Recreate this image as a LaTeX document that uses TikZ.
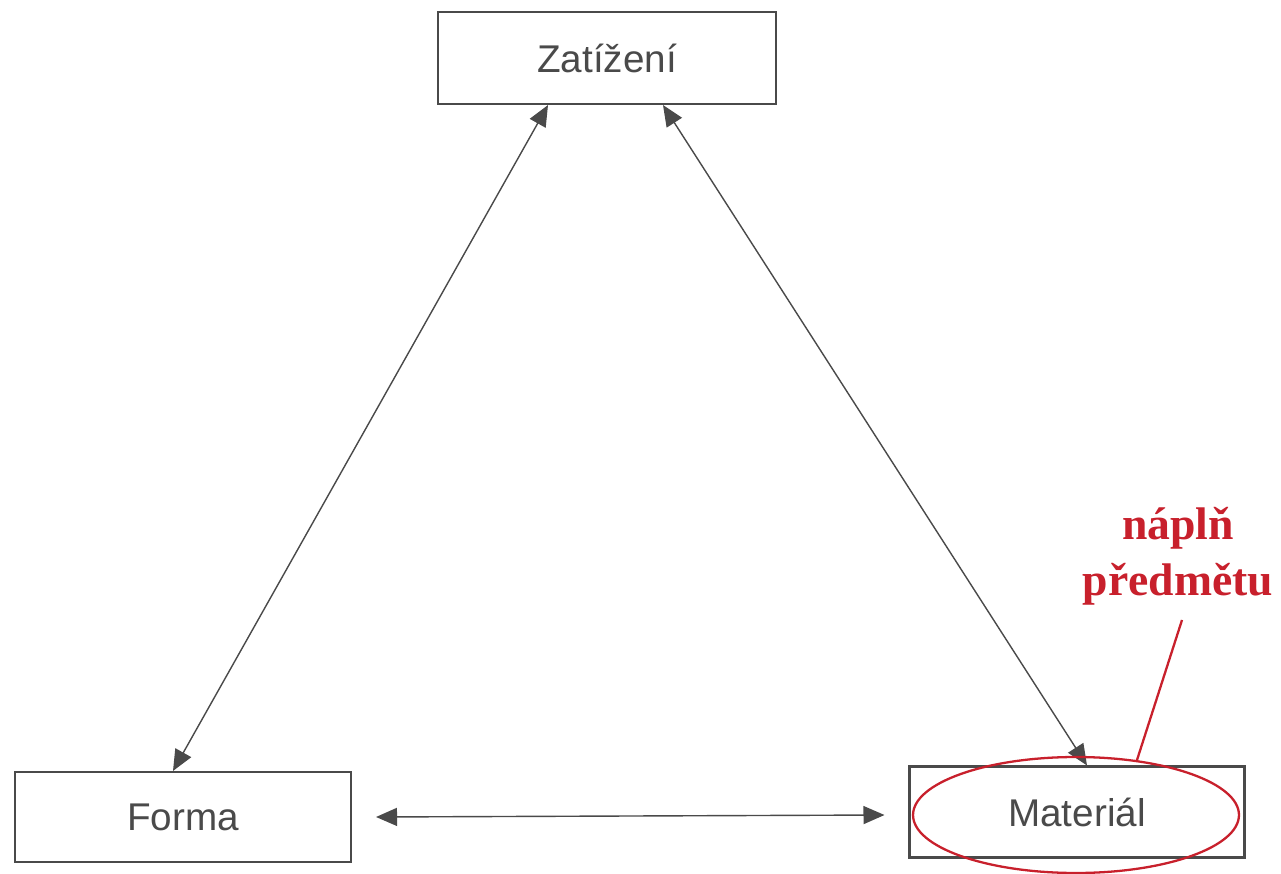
\documentclass[tikz,border=0pt]{standalone}
\usepackage{fontspec}
\newfontfamily\boxfont{Liberation Sans}
\newfontfamily\notefont{Liberation Serif}
\usetikzlibrary{arrows.meta,calc,shapes.geometric}
\definecolor{ink}{HTML}{4A4A4A}
\definecolor{notered}{HTML}{C8202C}
\tikzset{
  x=0.02cm, y=-0.02cm,
  conceptbox/.style={draw=ink, line width=1.2pt, fill=white, text=ink,
    font=\boxfont\fontsize{22}{26}\selectfont, inner sep=0pt},
  link/.style={draw=ink, line width=0.8pt,
    {Triangle[length=0.42cm,width=0.36cm]}-{Triangle[length=0.42cm,width=0.36cm]}},
  highlight/.style={draw=notered, line width=1.3pt, ellipse, inner sep=0pt},
  notetext/.style={text=notered, align=center,
    font=\notefont\bfseries\fontsize{26}{30}\selectfont}
}
\begin{document}
\begin{tikzpicture}
\useasboundingbox[fill=white] (0,0) rectangle (1281,874);

% the three concept boxes
\node[conceptbox, minimum width=6.76cm, minimum height=1.84cm] (zat) at (607,58) {Zatížení};
\node[conceptbox, minimum width=6.72cm, minimum height=1.80cm] (forma) at (183,817) {Forma};
\node[conceptbox, minimum width=6.70cm, minimum height=1.82cm] (mat) at (1077,812) {Materiál};

% end points of the double-headed links on the box edges
\coordinate (zl) at ($(zat.south)+(-59,0)$);
\coordinate (zr) at ($(zat.south)+(56,0)$);
\coordinate (ft) at ($(forma.north)+(-10,0)$);
\coordinate (fr) at ($(forma.east)+(24,0)$);
\coordinate (mt) at ($(mat.north)+(10,0)$);
\coordinate (ml) at ($(mat.west)+(-24,3)$);

\draw[link] (zl) -- (ft);
\draw[link] (zr) -- (mt);
\draw[link] (fr) -- (ml);

% red annotation
\node[highlight, minimum width=6.52cm, minimum height=2.32cm] (circ) at (1076,815) {};
\node[notetext] (note) at (1178,556) {náplň\\[2pt]předmětu};
\coordinate (tail) at (1182,620);
\draw[draw=notered, line width=1.3pt] (tail) -- (circ.42.5);
\end{tikzpicture}
\end{document}
